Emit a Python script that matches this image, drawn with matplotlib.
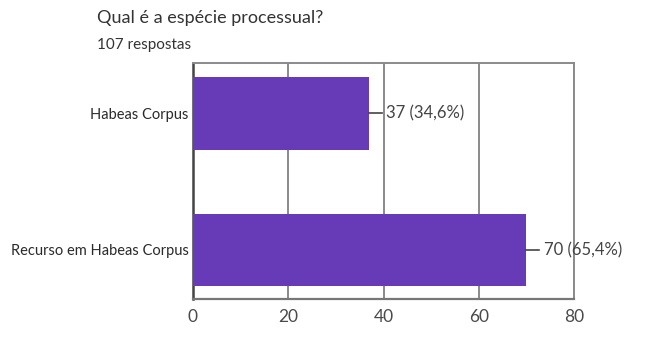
import matplotlib
matplotlib.use("Agg")
import matplotlib.pyplot as plt

categories = ["Habeas Corpus", "Recurso em Habeas Corpus"]
counts = [37, 70]
percents = ["34,6%", "65,4%"]
xticks = [0, 20, 40, 60, 80]

plt.rcParams['font.family'] = ['Lato', 'DejaVu Sans']

fig = plt.figure(figsize=(6.5, 3.37), dpi=100)
ax = fig.add_axes([193/650, 1 - 299/337, (574-193)/650, (299-63)/337])

ypos = list(range(len(categories)))
ax.barh(ypos, counts, height=0.53, color="#673AB7", zorder=3)
ax.set_ylim(1 + 0.36, -0.37)
ax.set_xlim(0, 80)
ax.set_xticks(xticks)
ax.set_xticklabels([str(t) for t in xticks], fontsize=12.5, color="#4a4a4a")
ax.set_yticks(ypos)
ax.set_yticklabels(categories, fontsize=10.5, color="#2a2a2a")
ax.tick_params(axis='y', length=0, pad=3)
ax.tick_params(axis='x', length=0, pad=7)
ax.grid(axis='x', color="#8a8a8a", linewidth=1.4, zorder=0)
for s in ['top', 'right']:
    ax.spines[s].set_color("#8a8a8a")
    ax.spines[s].set_linewidth(1.4)
ax.spines['bottom'].set_color("#777777")
ax.spines['bottom'].set_linewidth(1.6)
ax.spines['left'].set_color("#444444")
ax.spines['left'].set_linewidth(1.8)

for y, c, p in zip(ypos, counts, percents):
    ax.plot([c, c + 2.6], [y, y], color="#444444", linewidth=1.2, zorder=4, clip_on=False)
    ax.text(c + 3.6, y, f"{c} ({p})", va='center', ha='left', fontsize=12, color="#444444")

fig.text(97/650, 1 - 18.5/337, "Qual é a espécie processual?", fontsize=13, color="#333333", va='center', ha='left')
fig.text(97/650, 1 - 45/337, "107 respostas", fontsize=11, color="#333333", va='center', ha='left')

fig.savefig("out.png", dpi=100, facecolor="white")
